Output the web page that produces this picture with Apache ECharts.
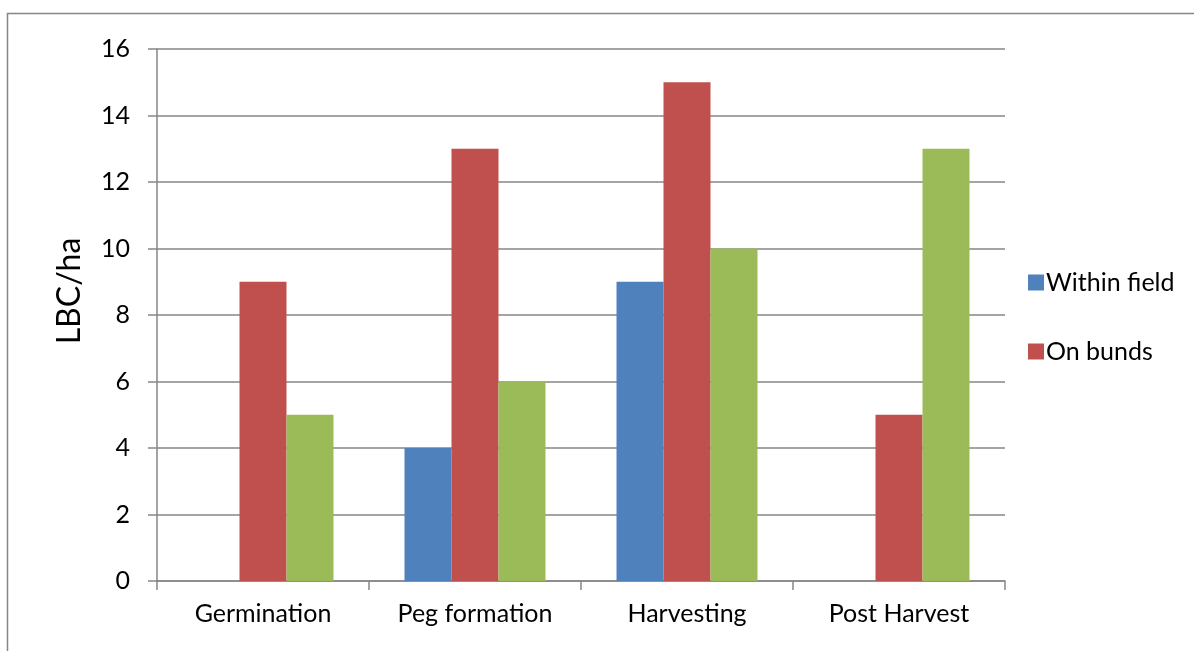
<!DOCTYPE html>
<html>
<head>
<meta charset="utf-8">
<script src="https://cdn.jsdelivr.net/npm/echarts@6/dist/echarts.min.js"></script>
<style>
  html, body { margin: 0; padding: 0; background: #fff; }
  #chart { width: 1194px; height: 651px; }
</style>
</head>
<body>
<div id="chart"></div>
<script>
// Crop stages on the category axis
const stages = ['Germination', 'Peg formation', 'Harvesting', 'Post Harvest'];
// LBC per hectare by position
const withinField = [0, 4, 9, 0];
const onBunds = [9, 13, 15, 5];
const overall = [5, 6, 10, 13];
// Value axis ticks
const yTicks = [0, 2, 4, 6, 8, 10, 12, 14, 16];

const FONT = 'Lato, "Open Sans", sans-serif';
const GRAY = '#868686';

const chart = echarts.init(document.getElementById('chart'), null, { renderer: 'canvas' });

const barBase = { type: 'bar', barWidth: 47, barGap: '0%', barCategoryGap: '33%' };

chart.setOption({
  animation: false,
  graphic: [{
    type: 'rect',
    shape: { x: 7.5, y: 13.5, width: 1230, height: 700 },
    style: { fill: 'none', stroke: GRAY, lineWidth: 1.5 },
    silent: true
  }, {
    type: 'text',
    x: 70,
    y: 291,
    rotation: Math.PI / 2,
    style: {
      text: 'LBC/ha',
      fontFamily: FONT,
      fontSize: 32,
      fill: '#000',
      align: 'center',
      verticalAlign: 'middle'
    },
    silent: true
  }],
  grid: { left: 157, right: 189, top: 49, bottom: 70, containLabel: false },
  legend: {
    data: ['Within field', 'On bunds'],
    orient: 'vertical',
    left: 1023,
    top: 265,
    itemWidth: 16,
    itemHeight: 16,
    itemGap: 44,
    icon: 'rect',
    textStyle: { fontFamily: FONT, fontSize: 25, color: '#000', padding: [0, 0, 0, -3] }
  },
  xAxis: {
    type: 'category',
    data: stages,
    axisLine: { lineStyle: { color: GRAY, width: 1.5 } },
    axisTick: { show: true, length: 9, lineStyle: { color: GRAY, width: 1.5 } },
    axisLabel: { fontFamily: FONT, fontSize: 25, color: '#000', margin: 20 }
  },
  yAxis: {
    type: 'value',
    min: yTicks[0],
    max: yTicks[yTicks.length - 1],
    interval: 2,
    axisLine: { show: true, lineStyle: { color: GRAY, width: 1.5 } },
    axisTick: { show: true, length: 9, lineStyle: { color: GRAY, width: 1.5 } },
    splitLine: { lineStyle: { color: GRAY, width: 1.5 } },
    axisLabel: { fontFamily: FONT, fontSize: 25, color: '#000', margin: 27 }
  },
  series: [
    Object.assign({ name: 'Within field', data: withinField, itemStyle: { color: '#4F81BD' } }, barBase),
    Object.assign({ name: 'On bunds', data: onBunds, itemStyle: { color: '#C0504D' } }, barBase),
    Object.assign({ name: 'Overall', data: overall, itemStyle: { color: '#9BBB59' } }, barBase)
  ]
});
</script>
</body>
</html>
